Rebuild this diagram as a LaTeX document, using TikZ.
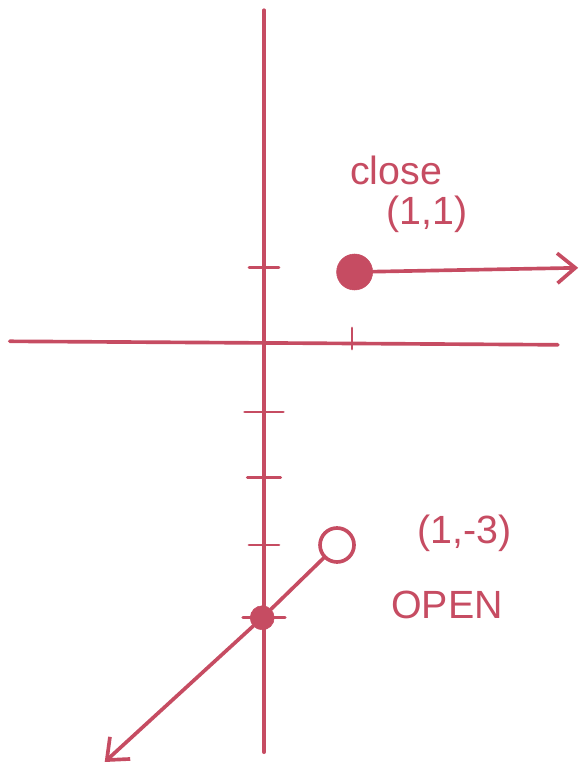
\documentclass[tikz,border=0pt]{standalone}
\usepackage{fontspec}
\setmainfont{Liberation Sans}
\usetikzlibrary{arrows.meta}
\definecolor{ink}{RGB}{198,76,98}
\begin{document}
\begin{tikzpicture}[
    x=2.2cm, y=1.75cm,
    >={Straight Barb[length=0.45cm, width=0.75cm]},
    every node/.style={font=\fontsize{28}{32}\selectfont, text=ink},
    pen/.style={draw=ink, line width=2.6pt, line cap=round},
    tick/.style={pen, line width=2pt},
    closedot/.style={circle, fill=ink, draw=ink, inner sep=0pt},
    opendot/.style={circle, draw=ink, line width=2.6pt, fill=white, inner sep=0pt}
]
    \useasboundingbox (-3,-6.086) rectangle (3.591,4.886);

    % axes
    \coordinate (ytop) at (0,4.74);
    \coordinate (ybot) at (0,-5.86);
    \coordinate (xleft) at (-2.89,0.01);
    \coordinate (xright) at (3.34,-0.04);
    \draw[pen] (ytop) -- (ybot);
    \draw[pen] (xleft) -- (xright);

    % ticks
    \foreach \t/\w in {1.06/0.17, -1.0/0.22, -1.94/0.19, -2.9/0.17, -3.94/0.24}{
        \draw[tick] (-\w,\t) -- (\w,\t);
    }
    \draw[tick] (1.0,0.2) -- (1.0,-0.1);

    % closed end at (1,1)
    \node[closedot, minimum size=0.9cm] (closed) at (1.03,1.0) {};
    \coordinate (rightend) at (3.57,1.06);
    \draw[pen, ->] (closed) -- (rightend);
    \node (closelbl) at (1.5,2.45) {close};
    \node (closept) at (1.85,1.82) {(1,1)};

    % open end at (1,-3)
    \node[opendot, minimum size=0.85cm] (open) at (0.83,-2.9) {};
    \node[closedot, minimum size=0.6cm] (yint) at (-0.02,-3.94) {};
    \coordinate (leftend) at (-1.81,-6.0);
    \draw[pen] (open) -- (yint);
    \draw[pen, ->] (yint) -- (leftend);
    \node (openpt) at (2.28,-2.73) {(1,-3)};
    \node (openlbl) at (2.08,-3.76) {OPEN};

\end{tikzpicture}
\end{document}
